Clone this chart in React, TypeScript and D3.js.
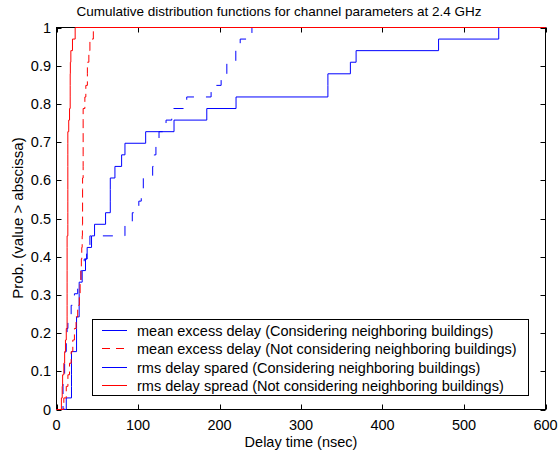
import React from "react";
import * as d3 from "d3";

// Axis ticks
const xTicks = [0, 100, 200, 300, 400, 500, 600];
const yTicks = [0, 0.1, 0.2, 0.3, 0.4, 0.5, 0.6, 0.7, 0.8, 0.9, 1];
const yTickLabels = ["0", "0.1", "0.2", "0.3", "0.4", "0.5", "0.6", "0.7", "0.8", "0.9", "1"];

// Sorted samples (nsec) of each empirical CDF, 33 locations each
const meanExcessConsidering = [
  12, 18.4, 18.4, 18.4, 18.4, 24.6, 24.6, 24.6, 27.8, 27.8, 27.8, 31.5, 35.6, 37.6, 43, 46.7,
  60.2, 66, 66, 66, 71.7, 79.9, 84, 109.4, 144.2, 184.4, 220.3, 333, 333, 360.6, 367.6, 468.8, 542.6,
];
const meanExcessNotConsidering = [
  9, 12, 14, 16, 18, 20, 22, 24, 26, 28, 29, 30, 30.5, 31, 31.5, 31.8, 32, 32, 32, 32,
  32.7, 32.7, 32.7, 32.7, 32.7, 32.7, 34.8, 36, 37.9, 37.9, 39.7, 41, 45.2,
];
const rmsConsidering = [
  8, 8, 8, 10, 11, 12, 13, 14, 18, 22, 26, 30, 34, 37, 41, 84, 93, 101, 104, 106.5,
  118, 120, 122, 125.8, 134.4, 141.4, 159.8, 189.7, 202, 209, 220, 225.4, 239.8,
];
const rmsNotConsidering = [
  6, 7, 7.5, 9, 10, 11, 12, 13, 13, 13, 13, 13, 13, 13, 13, 13.9, 13.9, 13.9, 13.9,
  13.9, 13.9, 13.9, 13.9, 13.9, 15, 16, 16.8, 16.8, 16.8, 17, 17.6, 19.6, 22.9,
];

const legendLabels = [
  "mean excess delay (Considering neighboring buildings)",
  "mean excess delay (Not considering neighboring buildings)",
  "rms delay spared (Considering neighboring buildings)",
  "rms delay spread (Not considering neighboring buildings)",
];
const legendColors = ["#0000ff", "#ff0000", "#0000ff", "#ff0000"];
const legendDashes = ["none", "8,6", "none", "none"];

const FONT = "'Liberation Sans', Arial, Helvetica, sans-serif";

export default function App() {
  const W = 560;
  const H = 457;
  const x = d3.scaleLinear().domain([0, 600]).range([56.5, 545.5]);
  const y = d3.scaleLinear().domain([0, 1]).range([409.5, 27.5]);

  const cdfPoints = (vals: number[]): [number, number][] => {
    const n = vals.length;
    const pts: [number, number][] = [[0, 0]];
    vals.forEach((v, i) => pts.push([v, (i + 1) / n]));
    pts.push([600, 1]);
    return pts;
  };
  const stepLine = d3
    .line<[number, number]>()
    .x((d) => x(d[0]))
    .y((d) => y(d[1]))
    .curve(d3.curveStepAfter);

  const series = [
    { data: meanExcessConsidering, color: "#0000ff", dash: "none" },
    { data: rmsConsidering, color: "#0000ff", dash: "10,12" },
    { data: meanExcessNotConsidering, color: "#ff0000", dash: "9,5" },
    { data: rmsNotConsidering, color: "#ff0000", dash: "none" },
  ];

  const x0 = x(0), x1 = x(600), y0 = y(0), y1 = y(1);
  const tickLen = 5;
  const fs = 14.5;

  return (
    <svg
      width={W}
      height={H}
      style={{ position: "absolute", left: 0, top: 0, display: "block", background: "#fff" }}
      fontFamily={FONT}
    >
      <rect x={0} y={0} width={W} height={H} fill="#fff" />
      {/* title */}
      <text x={279} y={16} textAnchor="middle" fontSize={13.5} fill="#000">
        Cumulative distribution functions for channel parameters at 2.4 GHz
      </text>

      {/* axes box */}
      <rect x={x0} y={y1} width={x1 - x0} height={y0 - y1} fill="none" stroke="#000" strokeWidth={1} />

      {/* x ticks (bottom and top, inward) */}
      {xTicks.map((t) => (
        <g key={"xt" + t}>
          <line x1={Math.round(x(t)) + 0.5} x2={Math.round(x(t)) + 0.5} y1={y0} y2={y0 - tickLen} stroke="#000" />
          <line x1={Math.round(x(t)) + 0.5} x2={Math.round(x(t)) + 0.5} y1={y1} y2={y1 + tickLen} stroke="#000" />
          <text x={x(t)} y={430} textAnchor="middle" fontSize={fs} fill="#000">
            {t}
          </text>
        </g>
      ))}

      {/* y ticks (left and right, inward) */}
      {yTicks.map((t, i) => (
        <g key={"yt" + i}>
          <line x1={x0} x2={x0 + tickLen} y1={Math.round(y(t)) + 0.5} y2={Math.round(y(t)) + 0.5} stroke="#000" />
          <line x1={x1} x2={x1 - tickLen} y1={Math.round(y(t)) + 0.5} y2={Math.round(y(t)) + 0.5} stroke="#000" />
          <text x={51} y={y(t) + 5} textAnchor="end" fontSize={fs} fill="#000">
            {yTickLabels[i]}
          </text>
        </g>
      ))}

      {/* axis labels */}
      <text x={301} y={447} textAnchor="middle" fontSize={fs} fill="#000">
        Delay time (nsec)
      </text>
      <text
        transform={`translate(23, 218) rotate(-90)`}
        textAnchor="middle"
        fontSize={15}
        fill="#000"
      >
        Prob. (value &gt; abscissa)
      </text>

      {/* CDF curves */}
      {series.map((s, i) => (
        <path
          key={"s" + i}
          d={stepLine(cdfPoints(s.data)) || ""}
          fill="none"
          stroke={s.color}
          strokeWidth={1}
          strokeDasharray={s.dash}
        />
      ))}

      {/* legend */}
      <g>
        <rect x={92.5} y={319.5} width={436} height={76} fill="#fff" stroke="#000" strokeWidth={1} />
        {legendLabels.map((lab, i) => {
          const ly = Math.round(330 + i * 18.3) + 0.5;
          return (
            <g key={"lg" + i}>
              <path
                d={`M102,${ly}H127`}
                fill="none"
                stroke={legendColors[i]}
                strokeWidth={1}
                strokeDasharray={legendDashes[i]}
              />
              <text x={137} y={ly + 5} fontSize={fs} fill="#000">
                {lab}
              </text>
            </g>
          );
        })}
      </g>
    </svg>
  );
}
